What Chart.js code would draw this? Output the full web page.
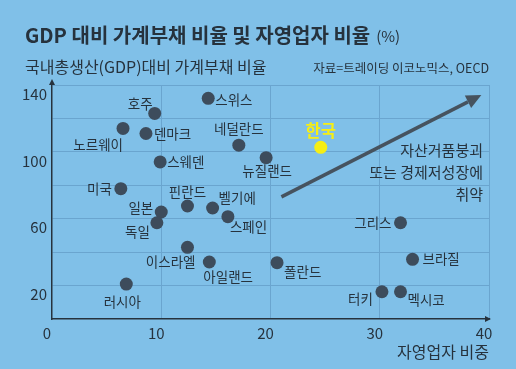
<!DOCTYPE html>
<html>
<head>
<meta charset="utf-8">
<script src="https://cdn.jsdelivr.net/npm/chart.js@4"></script>
<style>
  html, body { margin: 0; padding: 0; background: #80c0e8; }
  canvas { display: block; }
</style>
</head>
<body>
<canvas id="debtChart" width="516" height="369"></canvas>
<script>
// GDP 대비 가계부채 비율 vs 자영업자 비율

const countries = ['스위스', '호주', '노르웨이', '덴마크', '네덜란드', '스웨덴', '뉴질랜드', '미국',
    '핀란드', '벨기에', '일본', '스페인', '독일', '이스라엘', '아일랜드', '러시아', '한국',
    '그리스', '폴란드', '브라질', '터키', '멕시코'];
const selfEmployed = [14.3, 9.4, 6.5, 8.6, 17.1, 9.9, 19.6, 6.3,
    12.4, 14.7, 10.0, 16.1, 9.6, 12.4, 14.4, 6.8, 24.6,
    31.9, 20.6, 33.0, 30.2, 31.9];
const householdDebt = [132, 123, 114, 111, 104, 94, 96.5, 78,
    67.6, 66.4, 64, 61.2, 57.6, 42.9, 34.1, 20.9, 102.7,
    57.6, 33.7, 35.7, 16.3, 16.3];
const yTicks = [20, 60, 100, 140];
const highlight = '한국';

// label placement: [align, dx, dy]
const labelPlace = {
    '스위스': ['left', 7, 2], '호주': ['right', -2, -10], '노르웨이': ['right', 0, 16],
    '덴마크': ['left', 8, 0], '네덜란드': ['center', 0, -16], '스웨덴': ['left', 7, 0],
    '뉴질랜드': ['center', 1, 13], '미국': ['right', -9, 0], '핀란드': ['center', 0, -14],
    '벨기에': ['left', 6, -10], '일본': ['right', -8, -4], '스페인': ['left', 2, 10],
    '독일': ['right', -7, 9], '이스라엘': ['right', 8, 15], '아일랜드': ['left', -6, 15],
    '러시아': ['center', -4, 18], '한국': ['center', 0, -17], '그리스': ['right', -9, 0],
    '폴란드': ['left', 7, 9], '브라질': ['left', 10, 0], '터키': ['right', -9, 7],
    '멕시코': ['left', 7, 8]
};

const BG = '#80c0e8';
const DOT = '#3d4c5c';
const INK = '#26323d';
const GRID = '#6aa5cf';
const YELLOW = '#f6ee14';
const FONT = "'Noto Sans CJK KR', 'Noto Sans', sans-serif";

const decorPlugin = {
    id: 'decor',
    beforeDraw(chart) {
        const ctx = chart.ctx;
        ctx.save();
        ctx.fillStyle = BG;
        ctx.fillRect(0, 0, chart.width, chart.height);
        ctx.restore();
    },
    afterDraw(chart) {
        const ctx = chart.ctx;
        const xs = chart.scales.x, ys = chart.scales.y;
        const area = chart.chartArea;
        ctx.save();

        // titles
        ctx.fillStyle = INK;
        ctx.textBaseline = 'middle';
        ctx.textAlign = 'left';
        ctx.font = 'bold 20px ' + FONT;
        const t = 'GDP 대비 가계부채 비율 및 자영업자 비율';
        ctx.fillText(t, 25, 35);
        const tw = ctx.measureText(t).width;
        ctx.font = '15px ' + FONT;
        ctx.fillText('(%)', 25 + tw + 6, 36);

        ctx.font = '16px ' + FONT;
        ctx.fillText('국내총생산(GDP)대비 가계부채 비율', 25, 67);
        ctx.font = '12.5px ' + FONT;
        ctx.textAlign = 'right';
        ctx.fillText('자료=트레이딩 이코노믹스, OECD', 489, 68);

        ctx.font = '16px ' + FONT;
        ctx.fillText('자영업자 비중', 489, 352);

        // axis arrowheads
        ctx.fillStyle = INK;
        ctx.beginPath();
        ctx.moveTo(area.left, area.top - 6);
        ctx.lineTo(area.left - 3, area.top);
        ctx.lineTo(area.left + 3, area.top);
        ctx.closePath();
        ctx.fill();
        ctx.beginPath();
        ctx.moveTo(area.right + 2, area.bottom);
        ctx.lineTo(area.right - 4, area.bottom - 3);
        ctx.lineTo(area.right - 4, area.bottom + 3);
        ctx.closePath();
        ctx.fill();

        // trend arrow (data coordinates)
        const x0 = xs.getPixelForValue(21.0), y0 = ys.getPixelForValue(73.1);
        const x1 = xs.getPixelForValue(39.3), y1 = ys.getPixelForValue(134);
        const ang = Math.atan2(y1 - y0, x1 - x0);
        const head = 15;
        const bx = x1 - head * Math.cos(ang), by = y1 - head * Math.sin(ang);
        ctx.strokeStyle = '#46535f';
        ctx.fillStyle = '#46535f';
        ctx.lineWidth = 3.5;
        ctx.beginPath();
        ctx.moveTo(x0, y0);
        ctx.lineTo(bx, by);
        ctx.stroke();
        ctx.beginPath();
        ctx.moveTo(x1, y1);
        ctx.lineTo(bx + 7 * Math.sin(ang), by - 7 * Math.cos(ang));
        ctx.lineTo(bx - 7 * Math.sin(ang), by + 7 * Math.cos(ang));
        ctx.closePath();
        ctx.fill();

        ctx.fillStyle = INK;
        ctx.font = '15px ' + FONT;
        ctx.textAlign = 'right';
        ctx.fillText('자산거품붕괴', 483, 150);
        ctx.fillText('또는 경제저성장에', 483, 172);
        ctx.fillText('취약', 483, 194);

        // point labels
        const meta = chart.getDatasetMeta(0);
        meta.data.forEach((pt, i) => {
            const name = countries[i];
            const p = labelPlace[name];
            if (name === highlight) {
                ctx.fillStyle = YELLOW;
                ctx.font = 'bold 16.5px ' + FONT;
            } else {
                ctx.fillStyle = INK;
                ctx.font = '13.5px ' + FONT;
            }
            ctx.textAlign = p[0];
            ctx.fillText(name, pt.x + p[1], pt.y + p[2]);
        });
        ctx.restore();
    }
};

new Chart(document.getElementById('debtChart'), {
    type: 'scatter',
    data: {
        datasets: [{
            data: countries.map((c, i) => ({ x: selfEmployed[i], y: householdDebt[i] })),
            backgroundColor: countries.map(c => c === highlight ? YELLOW : DOT),
            borderWidth: 0,
            pointRadius: 6.5
        }]
    },
    options: {
        responsive: false,
        animation: false,
        events: [],
        layout: { padding: { top: 85, right: 27, left: 0, bottom: 0 } },
        plugins: { legend: { display: false }, tooltip: { enabled: false } },
        scales: {
            x: {
                min: 0, max: 40,
                afterFit: s => { s.height = 50; },
                grid: {
                    color: c => c.tick && c.tick.value === 0 ? 'rgba(0,0,0,0)' : GRID,
                    drawTicks: false
                },
                border: { color: INK, width: 1.5 },
                ticks: {
                    stepSize: 10, padding: 5, labelOffset: -5,
                    color: INK, font: { size: 15, family: FONT }
                }
            },
            y: {
                min: 0, max: 140,
                afterFit: s => { s.width = 52; },
                grid: {
                    color: c => c.tick && c.tick.value === 0 ? 'rgba(0,0,0,0)' : GRID,
                    drawTicks: false
                },
                border: { color: INK, width: 1.5 },
                ticks: {
                    stepSize: 20, padding: 5, labelOffset: 9,
                    color: INK, font: { size: 15, family: FONT },
                    callback: v => yTicks.includes(v) ? v : ''
                }
            }
        }
    },
    plugins: [decorPlugin]
});
</script>
</body>
</html>
